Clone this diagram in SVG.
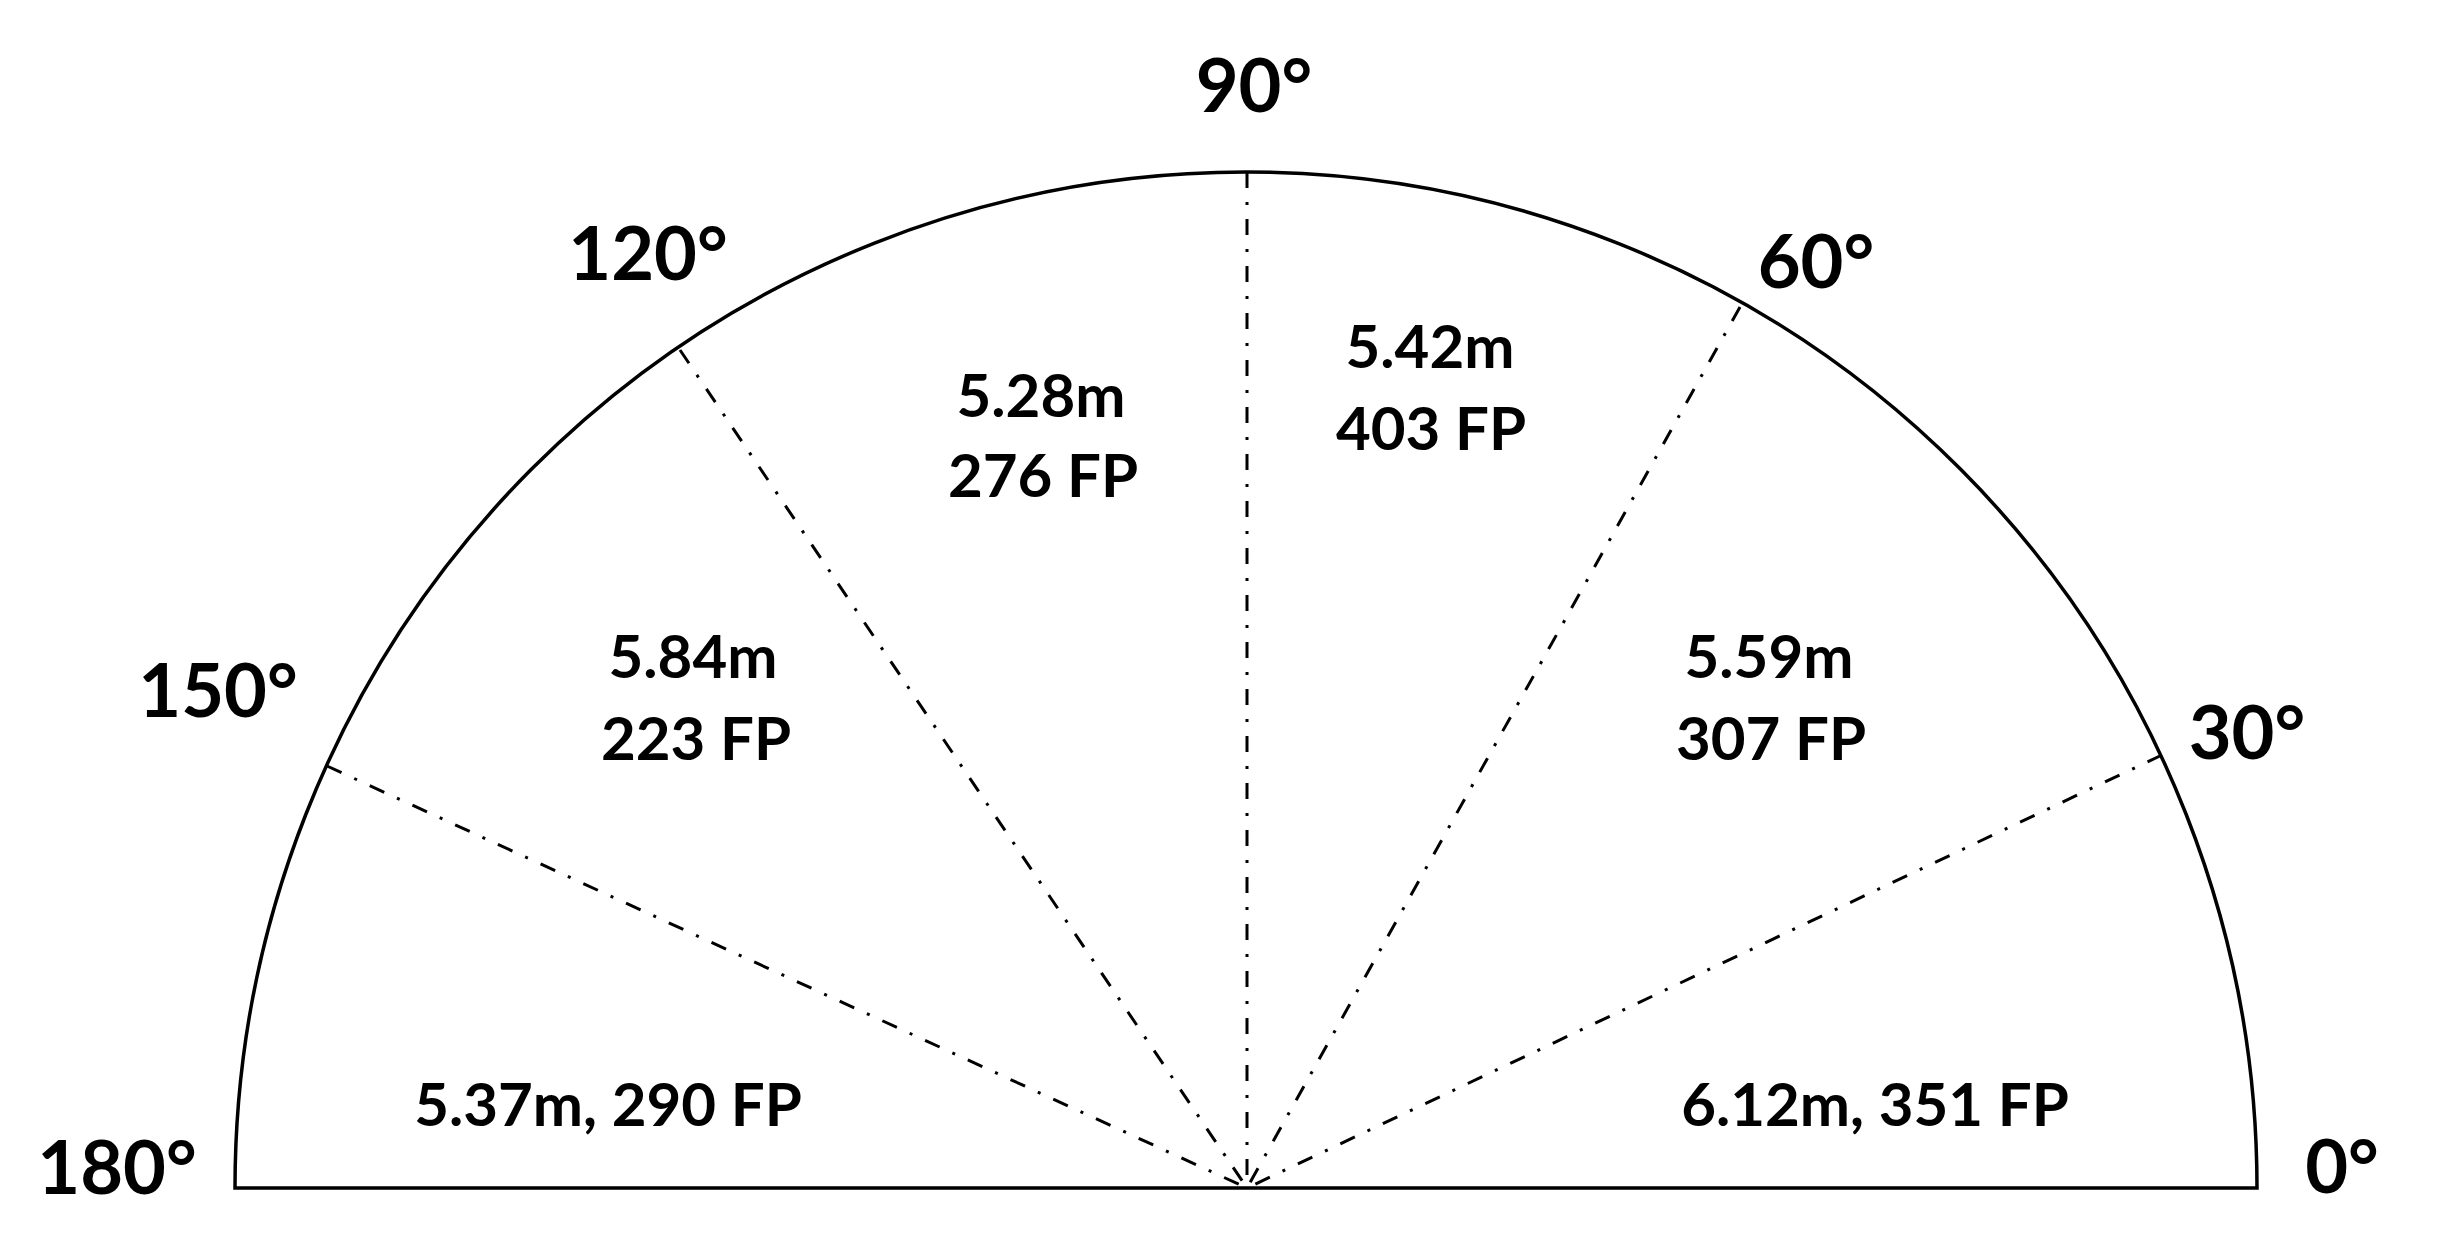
<svg xmlns="http://www.w3.org/2000/svg" width="2440" height="1240" viewBox="0 0 2440 1240">
<style>
.outline{fill:none;stroke:#000;stroke-width:3.5}
.ray{fill:none;stroke:#000;stroke-width:3;stroke-dasharray:16 14 3 14}
.deg{font-family:Lato,"Open Sans","Liberation Sans",sans-serif;font-weight:bold;font-size:74px;fill:#000;text-anchor:middle}
.val{font-family:Lato,"Open Sans","Liberation Sans",sans-serif;font-weight:bold;font-size:60px;fill:#000;text-anchor:middle}
</style>
<rect width="2440" height="1240" fill="#fff"/>
<g id="semicircle">
<path class="outline" d="M 235 1188 A 1011 1016 0 0 1 2257 1188 Z"/>
</g>
<g id="connectors">
<line class="ray" x1="1247" y1="172" x2="1247" y2="1188"/>
<line class="ray" x1="1740" y1="307" x2="1247" y2="1188"/>
<line class="ray" x1="680" y1="350" x2="1247" y2="1188"/>
<line class="ray" x1="2162" y1="755" x2="1247" y2="1188"/>
<line class="ray" x1="327" y1="766" x2="1247" y2="1188"/>
</g>
<g id="angle-labels">
<text class="deg" x="1254" y="112">90°</text>
<text class="deg" x="648" y="280">120°</text>
<text class="deg" x="1816" y="288">60°</text>
<text class="deg" x="218" y="717">150°</text>
<text class="deg" x="2247" y="759">30°</text>
<text class="deg" x="117" y="1194">180°</text>
<text class="deg" x="2342" y="1193">0°</text>
</g>
<g id="sector-120-90">
<text class="val" x="1041" y="417">5.28m</text>
<text class="val" x="1043" y="497">276 FP</text>
</g>
<g id="sector-90-60">
<text class="val" x="1430" y="368">5.42m</text>
<text class="val" x="1431" y="450">403 FP</text>
</g>
<g id="sector-150-120">
<text class="val" x="693" y="678">5.84m</text>
<text class="val" x="696" y="760">223 FP</text>
</g>
<g id="sector-60-30">
<text class="val" x="1769" y="678">5.59m</text>
<text class="val" x="1771" y="760">307 FP</text>
</g>
<g id="sector-180-150">
<text class="val" x="608" y="1126">5.37m, 290 FP</text>
</g>
<g id="sector-30-0">
<text class="val" x="1875" y="1126">6.12m, 351 FP</text>
</g>
</svg>
